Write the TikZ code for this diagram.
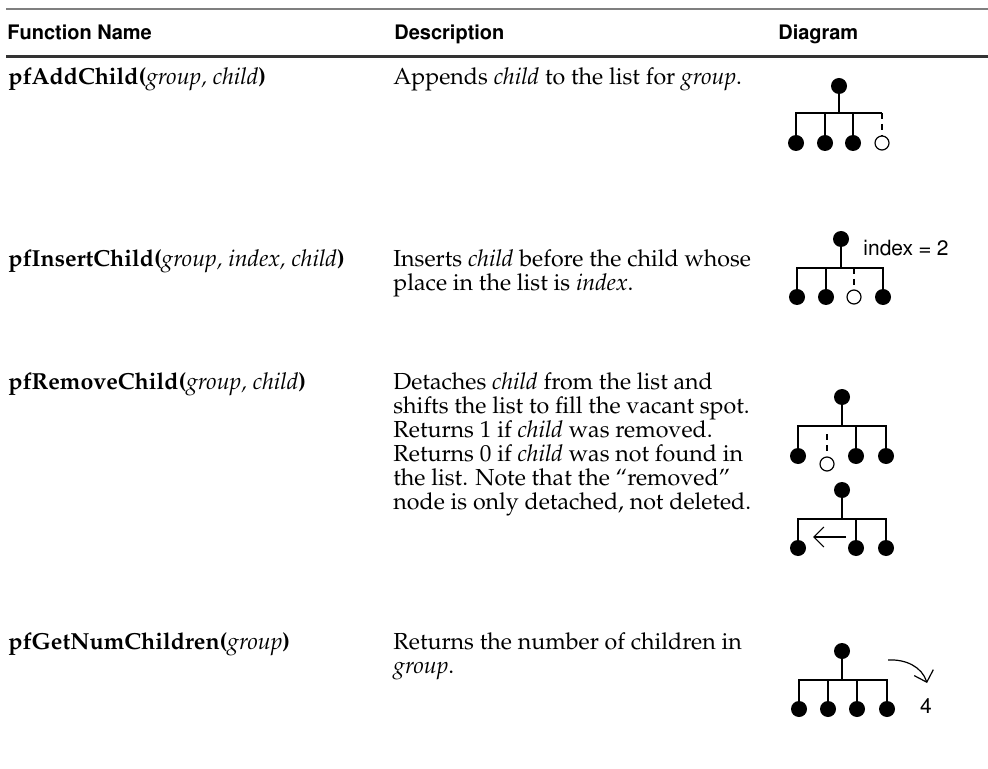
\documentclass[tikz,border=0pt]{standalone}
\usepackage[T1]{fontenc}
\usepackage{mathpazo}
\usetikzlibrary{arrows.meta}
\newcommand{\hvf}{\fontfamily{phv}\selectfont}
\definecolor{rulegray}{HTML}{7F7F7F}
\definecolor{ruledark}{HTML}{333333}
\begin{document}
\begin{tikzpicture}[x=0.5pt,y=-0.5pt,
  bodytxt/.style={anchor=base west, inner sep=0pt, font=\fontsize{11.6}{12}\selectfont},
  headtxt/.style={anchor=base west, inner sep=0pt, font=\hvf\bfseries\fontsize{10}{12}\selectfont},
  lbltxt/.style={inner sep=0pt, font=\hvf\fontsize{10.5}{12}\selectfont},
  dotnode/.style={circle, fill=black, minimum size=8pt, inner sep=0pt},
  holenode/.style={circle, draw=black, line width=0.6pt, fill=white, minimum size=7pt, inner sep=0pt},
  treeline/.style={line width=0.75pt},
  dashline/.style={treeline, dash pattern=on 3pt off 2.5pt},
  barbarrow/.style={-{Straight Barb[length=5pt,width=10pt]}, line width=0.6pt}]
\fill[white] (0,0) rectangle (988,769);
\useasboundingbox (0,0) rectangle (988,769);

% rules
\coordinate (ruleTL) at (6,9);
\coordinate (ruleTR) at (988,9);
\coordinate (ruleBL) at (6,57);
\coordinate (ruleBR) at (988,57);
\draw[rulegray, line width=1pt] (ruleTL) -- (ruleTR);
\draw[ruledark, line width=1.5pt] (ruleBL) -- (ruleBR);

% headers
\node[headtxt] (hfn) at (7,40) {Function Name};
\node[headtxt] (hds) at (394,40) {Description};
\node[headtxt] (hdg) at (778,40) {Diagram};

% row 1
\node[bodytxt] (f1) at (8,85) {\textbf{pfAddChild(}\textit{group, child}\textbf{)}};
\node[bodytxt] (d1a) at (393,85) {Appends \textit{child} to the list for \textit{group}.};

% row 2
\node[bodytxt] (f2) at (8,267) {\textbf{pfInsertChild(}\textit{group, index, child}\textbf{)}};
\node[bodytxt] (d2a) at (393,267) {Inserts \textit{child} before the child whose};
\node[bodytxt] (d2b) at (393,291) {place in the list is \textit{index}.};

% row 3
\node[bodytxt] (f3) at (8,389) {\textbf{pfRemoveChild(}\textit{group, child}\textbf{)}};
\node[bodytxt] (d3a) at (393,389) {Detaches \textit{child} from the list and};
\node[bodytxt] (d3b) at (393,413) {shifts the list to fill the vacant spot.};
\node[bodytxt] (d3c) at (393,437) {Returns 1 if \textit{child} was removed.};
\node[bodytxt] (d3d) at (393,461) {Returns 0 if \textit{child} was not found in};
\node[bodytxt] (d3e) at (393,485) {the list. Note that the ``removed''};
\node[bodytxt] (d3f) at (393,509) {node is only detached, not deleted.};

% row 4
\node[bodytxt] (f4) at (8,649) {\textbf{pfGetNumChildren(}\textit{group}\textbf{)}};
\node[bodytxt] (d4a) at (393,649) {Returns the number of children in};
\node[bodytxt] (d4b) at (393,673) {\textit{group}.};

% diagram 1
\node[dotnode] (r1) at (839,86) {};
\coordinate (b1) at (839,113);
\node[dotnode] (c11) at (796,143) {};
\node[dotnode] (c12) at (825,143) {};
\node[dotnode] (c13) at (853,143) {};
\node[holenode] (c14) at (882,143) {};
\draw[treeline] (r1) -- (b1);
\draw[treeline] (c11.north) -- (c11.north |- b1) -- (c14.north |- b1);
\draw[treeline] (c12.north) -- (c12.north |- b1);
\draw[treeline] (c13.north) -- (c13.north |- b1);
\draw[dashline] (c14.north |- b1) -- (c14.north);

% diagram 2
\node[dotnode] (r2) at (841,239) {};
\coordinate (b2) at (841,268);
\node[dotnode] (c21) at (797,297) {};
\node[dotnode] (c22) at (826,297) {};
\node[holenode] (c23) at (854,297) {};
\node[dotnode] (c24) at (883,297) {};
\draw[treeline] (r2) -- (b2);
\draw[treeline] (c21.north) -- (c21.north |- b2) -- (c24.north |- b2) -- (c24.north);
\draw[treeline] (c22.north) -- (c22.north |- b2);
\draw[dashline] (c23.north |- b2) -- (c23.north);
\node[lbltxt, anchor=west] (idx) at (863,248) {index = 2};

% diagram 3 (upper)
\node[dotnode] (r3) at (842,397) {};
\coordinate (b3) at (842,426);
\node[dotnode] (c31) at (798,456) {};
\node[holenode] (c32) at (827,464) {};
\node[dotnode] (c33) at (856,456) {};
\node[dotnode] (c34) at (886,456) {};
\coordinate (d32) at (827,434);
\draw[treeline] (r3) -- (b3);
\draw[treeline] (c31.north) -- (c31.north |- b3) -- (c34.north |- b3) -- (c34.north);
\draw[treeline] (c33.north) -- (c33.north |- b3);
\draw[dashline] (d32) -- ([yshift=2pt]c32.north);

% diagram 3 (lower)
\node[dotnode] (r4) at (842,490) {};
\coordinate (b4) at (842,519);
\node[dotnode] (c41) at (798,548) {};
\node[dotnode] (c42) at (856,548) {};
\node[dotnode] (c43) at (886,548) {};
\draw[treeline] (r4) -- (b4);
\draw[treeline] (c41.north) -- (c41.north |- b4) -- (c43.north |- b4) -- (c43.north);
\draw[treeline] (c42.north) -- (c42.north |- b4);
\coordinate (a4s) at (846,537);
\coordinate (a4e) at (813,537);
\draw[barbarrow] (a4s) -- (a4e);

% diagram 4
\node[dotnode] (r5) at (842,651) {};
\coordinate (b5) at (842,680);
\node[dotnode] (c51) at (799,709) {};
\node[dotnode] (c52) at (828,709) {};
\node[dotnode] (c53) at (857,709) {};
\node[dotnode] (c54) at (887,709) {};
\draw[treeline] (r5) -- (b5);
\draw[treeline] (c51.north) -- (c51.north |- b5) -- (c54.north |- b5) -- (c54.north);
\draw[treeline] (c52.north) -- (c52.north |- b5);
\draw[treeline] (c53.north) -- (c53.north |- b5);
\coordinate (a5s) at (888,660);
\coordinate (a5e) at (927,683);
\draw[barbarrow] (a5s) .. controls (906,659) and (922,667) .. (a5e);
\node[lbltxt] (num) at (926,706) {4};
\end{tikzpicture}
\end{document}
